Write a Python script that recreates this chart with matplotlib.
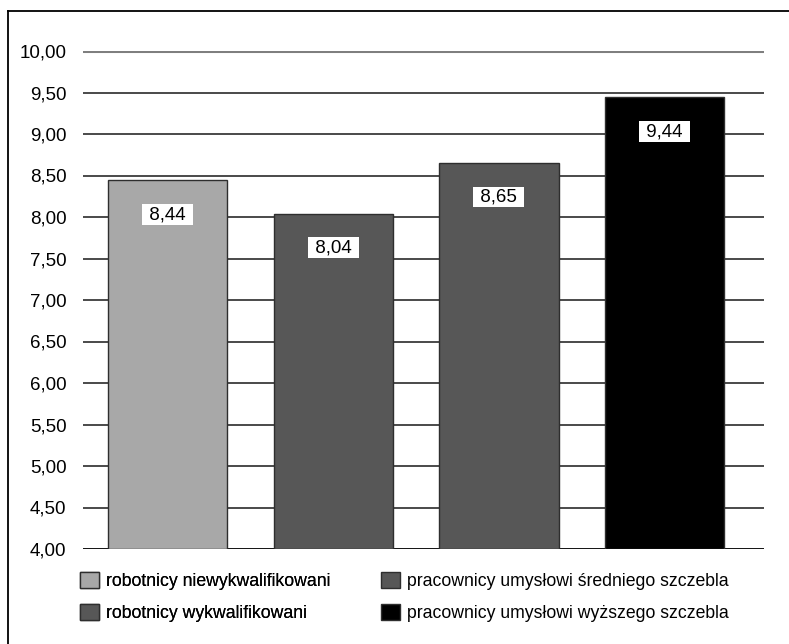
import matplotlib as mpl
mpl.use('Agg')
import matplotlib.pyplot as plt
from matplotlib.lines import Line2D

# categories and values
categories = ["robotnicy niewykwalifikowani",
              "robotnicy wykwalifikowani",
              "pracownicy umysłowi średniego szczebla",
              "pracownicy umysłowi wyższego szczebla"]
values = [8.44, 8.04, 8.65, 9.44]
bar_colors = ["#a8a8a8", "#575757", "#575757", "#000000"]
y_ticks = [4.0, 4.5, 5.0, 5.5, 6.0, 6.5, 7.0, 7.5, 8.0, 8.5, 9.0, 9.5, 10.0]

plt.rcParams['font.family'] = ['Liberation Sans', 'DejaVu Sans']

fig = plt.figure(figsize=(7.89, 6.44), dpi=100)
ax = fig.add_axes([83 / 789, 1 - 549 / 644, (764 - 83) / 789, (549 - 51) / 644])

# bars, one per category so each one gets a legend entry
bars = []
for i, (name, v, c) in enumerate(zip(categories, values, bar_colors)):
    b = ax.bar(i, v - 4.0, bottom=4.0, width=0.72, color=c,
               edgecolor="#2e2e2e", linewidth=1.0, label=name, zorder=3)
    bars.append(b)
    # value label in a white box a little below the bar top
    ax.annotate(" " + f"{v:.2f}".replace('.', ',') + " ", xy=(i, v),
                xytext=(0, -24.5), textcoords='offset points',
                ha='center', va='center', fontsize=13.5, zorder=4,
                bbox=dict(boxstyle='square,pad=0.1', fc='white', ec='none'))

ax.set_ylim(4.0, 10.0)
ax.set_xlim(-0.51, 3.6)
ax.set_yticks(y_ticks)
ax.set_yticklabels([f"{t:.2f}".replace('.', ',') for t in y_ticks], fontsize=13.5)
ax.set_xticks([])
ax.tick_params(axis='y', length=0, pad=12)
for s in ax.spines.values():
    s.set_visible(False)

# horizontal grid lines
ax.yaxis.grid(True, color="#3c3c3c", linewidth=1.3, zorder=0)
ax.set_axisbelow(True)
grid = ax.get_ygridlines()
grid[-1].set_color("#7f7f7f")
grid[-1].set_linewidth(2.2)
grid[0].set_color("#000000")

# legend in two columns below the plot
handles = [b[0] for b in bars]
leg_kw = dict(loc='upper left', frameon=False, fontsize=12.7,
              handlelength=1.05, handleheight=1.0, handletextpad=0.45,
              labelspacing=0.8, borderpad=0, borderaxespad=0)
leg1 = fig.legend(handles[:2], categories[:2],
                  bbox_to_anchor=(80 / 789, 1 - 572 / 644), **leg_kw)
leg2 = fig.legend(handles[2:], categories[2:],
                  bbox_to_anchor=(381 / 789, 1 - 572 / 644), **leg_kw)
fig.add_artist(leg1)

# frame lines at the top and left of the picture
fig.add_artist(Line2D([8 / 789, 1.0], [1 - 10.5 / 644, 1 - 10.5 / 644],
                      color='black', linewidth=1.3))
fig.add_artist(Line2D([8 / 789, 8 / 789], [0.0, 1 - 10.5 / 644],
                      color='black', linewidth=1.3))

fig.savefig("out.png", dpi=100)
